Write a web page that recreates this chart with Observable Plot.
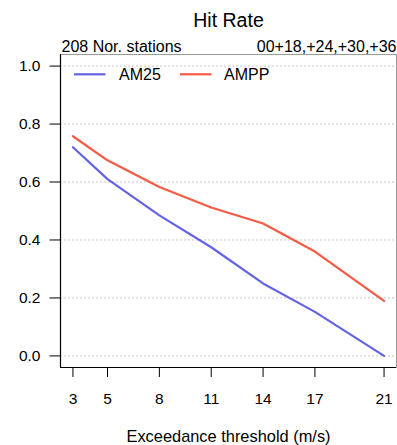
<!DOCTYPE html>
<html>
<head>
<meta charset="utf-8">
<script src="https://cdn.jsdelivr.net/npm/d3@7"></script>
<script src="https://cdn.jsdelivr.net/npm/@observablehq/plot@0.6"></script>
<style>
  html, body { margin: 0; padding: 0; background: #fff; }
  #chart { width: 397px; height: 445px; }
  svg { font-family: "Liberation Sans", Arial, Helvetica, sans-serif; }
</style>
</head>
<body>
<div id="chart"></div>
<script>
// ---- data ----
const thresholds = [3, 5, 8, 11, 14, 17, 21];
const am25 = [0.72, 0.61, 0.485, 0.375, 0.25, 0.152, 0.0];
const ampp = [0.758, 0.675, 0.583, 0.512, 0.457, 0.36, 0.19];
const seriesNames = ["AM25", "AMPP"];
const seriesColors = ["#6363E6", "#F55A44"];
const yTicks = [0, 0.2, 0.4, 0.6, 0.8, 1.0];
const title = "Hit Rate";
const subLeft = "208 Nor. stations";
const subRight = "00+18,+24,+30,+36";
const xLabel = "Exceedance threshold (m/s)";

const rows = [];
thresholds.forEach((t, i) => {
  rows.push({x: t, y: am25[i], s: seriesNames[0]});
  rows.push({x: t, y: ampp[i], s: seriesNames[1]});
});

const xDom = [2.28, 21.72];
const yDom = [-0.04, 1.04];

const plot = Plot.plot({
  width: 397,
  height: 445,
  marginTop: 54,
  marginBottom: 78,
  marginLeft: 60,
  marginRight: 1,
  style: {fontFamily: '"Liberation Sans", Arial, Helvetica, sans-serif', fontSize: "15px", color: "#000", background: "#fff", overflow: "visible"},
  x: {domain: xDom, ticks: thresholds, label: null},
  y: {domain: yDom, ticks: yTicks, label: null},
  color: {domain: seriesNames, range: seriesColors},
  marks: [
    Plot.ruleY(yTicks, {stroke: "#c8c8c8", strokeDasharray: "2,2", strokeWidth: 1}),
    Plot.frame({stroke: "#999", strokeWidth: 1}),
    Plot.ruleX([xDom[0]], {stroke: "#000", strokeWidth: 1.2}),
    Plot.ruleY([yDom[0]], {stroke: "#000", strokeWidth: 1.2}),
    Plot.line(rows, {x: "x", y: "y", z: "s", stroke: "s", strokeWidth: 2.2}),
    Plot.axisY({ticks: yTicks, tickFormat: d3.format(".1f"), tickSize: 10.5, tickPadding: 9.5, fontSize: 15.5, label: null, stroke: "#000"}),
    Plot.axisX({ticks: thresholds, tickFormat: d => String(d), tickSize: 10, tickPadding: 15, fontSize: 15.5, label: null, stroke: "#000"}),
    Plot.text([title], {frameAnchor: "top", dy: -27.3, lineAnchor: "bottom", fontSize: 19.5, text: d => d, fill: "#000"}),
    Plot.text([subLeft], {frameAnchor: "top-left", textAnchor: "start", dx: 1, dy: -2.5, lineAnchor: "bottom", fontSize: 16, text: d => d, fill: "#000"}),
    Plot.text([subRight], {frameAnchor: "top-right", textAnchor: "end", dx: 0, dy: -2.5, lineAnchor: "bottom", fontSize: 16, text: d => d, fill: "#000"}),
    Plot.text([xLabel], {frameAnchor: "bottom", dy: 74.5, lineAnchor: "bottom", fontSize: 16.4, text: d => d, fill: "#000"})
  ]
});

// in-plot legend (top-left inside the frame)
const svg = d3.select(plot);
const lg = svg.append("g").attr("transform", "translate(60,54)").attr("text-anchor", "start");
const items = [{x: 14, tx: 59}, {x: 120, tx: 164}];
seriesNames.forEach((name, i) => {
  const it = items[i];
  lg.append("line")
    .attr("x1", it.x).attr("x2", it.x + 31.5)
    .attr("y1", 20.3).attr("y2", 20.3)
    .attr("stroke", seriesColors[i]).attr("stroke-width", 2.2);
  lg.append("text")
    .attr("x", it.tx).attr("y", 20.3).attr("dy", "0.35em")
    .attr("text-anchor", "start")
    .attr("font-size", 16).attr("fill", "#000")
    .text(name);
});

document.getElementById("chart").appendChild(plot);
</script>
</body>
</html>
